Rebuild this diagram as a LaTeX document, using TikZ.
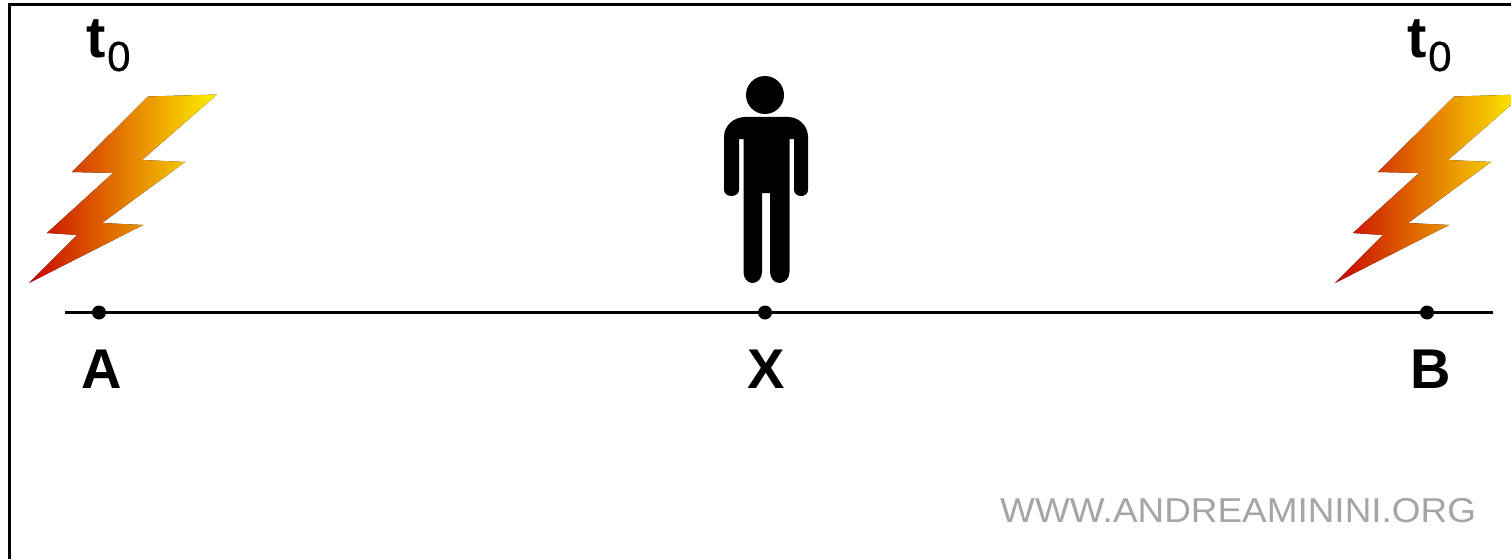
\documentclass[tikz,border=0pt]{standalone}
\usepackage{fontspec}
\setmainfont{Liberation Sans}
\newfontfamily\zfont[FakeBold=0.5]{Liberation Sans}
\usetikzlibrary{calc}
\definecolor{wm}{RGB}{165,165,165}
\definecolor{boltred}{RGB}{200,5,0}
\definecolor{boltmid}{RGB}{225,125,0}
\definecolor{boltyel}{RGB}{255,240,0}
\tikzset{
  dotnode/.style={circle,fill=black,inner sep=0pt,minimum size=14pt},
  letter/.style={font=\fontsize{56}{56}\bfseries\selectfont,inner sep=0pt,anchor=base},
  tzero/.style={inner sep=0pt,anchor=base west,font=\fontsize{58}{58}\bfseries\selectfont},
  zsub/.style={inner sep=0pt,anchor=base west,font=\fontsize{42}{42}\zfont},
  axisline/.style={line width=3pt,black},
  frameline/.style={line width=3pt,black},
  boltshade/.style={left color=boltred,middle color=boltmid,right color=boltyel,draw=none},
  water/.style={font=\fontsize{34.5}{34.5}\selectfont,text=wm,inner sep=0pt,anchor=base west,xscale=1.07,transform shape}
}
\newcommand{\boltpath}{(148,96.5) -- (217,94.5) -- (142,160) -- (185,162) -- (102,223) -- (143,225) -- (29,283) -- (77,235) -- (47,233) -- (113,173) -- (72,172) -- cycle}
\begin{document}
\begin{tikzpicture}[x=1pt,y=-1pt]
\useasboundingbox (0,0) rectangle (1511,559);
\fill[white] (0,0) rectangle (1511,559);
\clip (0,0) rectangle (1511,559);
% frame
\draw[frameline] (9,559) -- (9,4.5) -- (1511,4.5);
% axis
\coordinate (axl) at (65,312);
\coordinate (axr) at (1493,312);
\draw[axisline] (axl) -- (axr);
\node[dotnode] (dotA) at (99,312.5) {};
\node[dotnode] (dotX) at (765,312.5) {};
\node[dotnode] (dotB) at (1427,312.5) {};
\node[letter] (lA) at (102,388) {A};
\node[letter] (lX) at (766,388) {X};
\node[letter] (lB) at (1430.5,388) {B};
% times
\node[tzero] (t1) at (86,58) {t};
\node[zsub] (z1) at (107,71) {0};
\node[tzero] (t2) at (1407,58) {t};
\node[zsub] (z2) at (1428,71) {0};
% bolts
\fill[boltshade] \boltpath;
\begin{scope}[xshift=1306pt]
\fill[boltshade] \boltpath;
\end{scope}
% person
\fill[black] (765,95) circle (19);
\fill[black]
  (745,117) -- (788,117) to[out=0,in=90] (808,137) -- (808,190)
  to[out=-90,in=0] (801,196) to[out=180,in=-90] (794,190)
  -- (794,139) -- (789.5,139) -- (789.5,272) to[out=-90,in=0] (779.5,283) to[out=180,in=-90] (770,272)
  -- (770,193) -- (762,193) -- (762,272) to[out=-90,in=0] (752.5,283) to[out=180,in=-90] (743.5,272)
  -- (743.5,139) -- (739,139) -- (739,190) to[out=-90,in=0] (731.5,196) to[out=180,in=-90] (724,190)
  -- (724,137) to[out=90,in=180] (745,117) -- cycle;
% watermark
\node[water] (wmk) at (1000,522) {WWW.ANDREAMININI.ORG};
\end{tikzpicture}
\end{document}
